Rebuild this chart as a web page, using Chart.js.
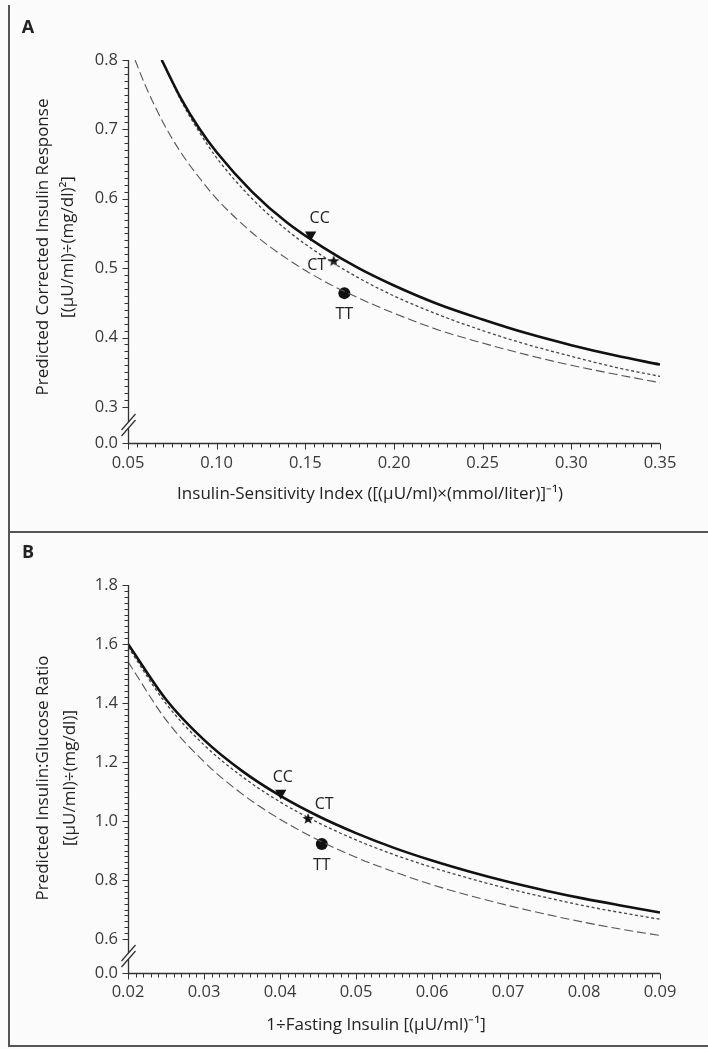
<!DOCTYPE html>
<html lang="en">
<head>
<meta charset="UTF-8">
<title>Predicted insulin response by genotype</title>
<script src="https://cdn.jsdelivr.net/npm/chart.js"></script>
<style>
    body {
        margin: 0;
        width: 708px;
        height: 1049px;
        position: relative;
        overflow: hidden;
        background: #fbfbfb;
        font-family: 'Open Sans', sans-serif;
    }
    .panel { position: absolute; left: 0; width: 708px; }
    #panelA { top: 0; height: 532px; }
    #panelB { top: 533px; height: 516px; }
    .rule { position: absolute; background: #555; }
</style>
</head>
<body>
<div class="rule" style="left:8px; top:5px; width:2px; height:1042px"></div>
<div class="rule" style="left:8px; top:531px; width:700px; height:2px"></div>
<div class="rule" style="left:8px; top:1045px; width:700px; height:2px"></div>
<div class="panel" id="panelA"><canvas id="chartA"></canvas></div>
<div class="panel" id="panelB"><canvas id="chartB"></canvas></div>
<script>
// ---- Panel A: insulin-sensitivity index vs corrected insulin response ----
const genotypes = ['CC', 'CT', 'TT'];

const xTicksA = [0.05, 0.10, 0.15, 0.20, 0.25, 0.30, 0.35];
const xTickLabelsA = ['0.05', '0.10', '0.15', '0.20', '0.25', '0.30', '0.35'];
const yTicksA = [0.3, 0.4, 0.5, 0.6, 0.7, 0.8];
const yTickLabelsA = ['0.0', '0.3', '0.4', '0.5', '0.6', '0.7', '0.8'];
const yBaseA = 0.248;   // where the broken axis shows 0.0

const xA_CC = [0.069, 0.08, 0.09, 0.10, 0.12, 0.14, 0.16, 0.18, 0.20, 0.225, 0.25, 0.275, 0.30, 0.325, 0.35];
const yA_CC = [0.800, 0.744, 0.702, 0.667, 0.610, 0.565, 0.530, 0.500, 0.475, 0.448, 0.426, 0.406, 0.389, 0.374, 0.361];
const xA_CT = [0.069, 0.08, 0.09, 0.10, 0.12, 0.14, 0.16, 0.18, 0.20, 0.225, 0.25, 0.275, 0.30, 0.325, 0.35];
const yA_CT = [0.800, 0.741, 0.697, 0.659, 0.600, 0.554, 0.517, 0.486, 0.460, 0.433, 0.410, 0.390, 0.373, 0.357, 0.344];
const xA_TT = [0.054, 0.06, 0.07, 0.08, 0.09, 0.10, 0.12, 0.14, 0.16, 0.18, 0.20, 0.225, 0.25, 0.275, 0.30, 0.325, 0.35];
const yA_TT = [0.800, 0.762, 0.709, 0.666, 0.631, 0.600, 0.551, 0.513, 0.482, 0.457, 0.435, 0.411, 0.392, 0.375, 0.360, 0.347, 0.335];

const markX_A = [0.153, 0.166, 0.172];
const markY_A = [0.548, 0.510, 0.464];

// ---- Panel B: 1/fasting insulin vs insulin:glucose ratio ----
const xTicksB = [0.02, 0.03, 0.04, 0.05, 0.06, 0.07, 0.08, 0.09];
const xTickLabelsB = ['0.02', '0.03', '0.04', '0.05', '0.06', '0.07', '0.08', '0.09'];
const yTicksB = [0.6, 0.8, 1.0, 1.2, 1.4, 1.6, 1.8];
const yTickLabelsB = ['0.0', '0.6', '0.8', '1.0', '1.2', '1.4', '1.6', '1.8'];
const yBaseB = 0.485;

const xB = [0.02, 0.025, 0.03, 0.035, 0.04, 0.045, 0.05, 0.055, 0.06, 0.065, 0.07, 0.075, 0.08, 0.085, 0.09];
const yB_CC = [1.600, 1.412, 1.275, 1.170, 1.086, 1.017, 0.959, 0.909, 0.866, 0.828, 0.794, 0.764, 0.737, 0.713, 0.690];
const yB_CT = [1.590, 1.398, 1.258, 1.151, 1.065, 0.995, 0.936, 0.886, 0.843, 0.805, 0.771, 0.741, 0.713, 0.689, 0.667];
const yB_TT = [1.540, 1.343, 1.201, 1.092, 1.006, 0.936, 0.877, 0.828, 0.784, 0.747, 0.714, 0.684, 0.657, 0.633, 0.612];

const markX_B = [0.0401, 0.0437, 0.0455];
const markY_B = [1.095, 1.007, 0.922];

Chart.defaults.font.family = '"Open Sans", sans-serif';
Chart.defaults.font.size = 16.5;
Chart.defaults.color = '#3a3a3a';

const pts = (xs, ys) => xs.map((x, i) => ({ x: x, y: ys[i] }));

// small filled five-point star for the CT marker
function makeStar(r) {
    const c = document.createElement('canvas');
    c.width = c.height = 2 * r + 2;
    const g = c.getContext('2d');
    g.beginPath();
    for (let i = 0; i < 10; i++) {
        const a = -Math.PI / 2 + i * Math.PI / 5;
        const rr = i % 2 ? r * 0.42 : r;
        g.lineTo(r + 1 + rr * Math.cos(a), r + 1 + rr * Math.sin(a));
    }
    g.closePath();
    g.fillStyle = '#111';
    g.fill();
    return c;
}
const star = makeStar(6);

// axis lines, minor ticks, the axis break, titles and genotype labels
const decor = {
    id: 'decor',
    afterDraw(chart, args, o) {
        const ctx = chart.ctx;
        const xs = chart.scales.x, ys = chart.scales.y;
        const ax = Math.round(xs.getPixelForValue(xs.min)) + 0.5;
        const ay = Math.round(ys.getPixelForValue(ys.min)) + 0.5;
        const top = ys.getPixelForValue(ys.max);
        const right = xs.getPixelForValue(xs.max);
        const brk = ys.getPixelForValue((o.breakAt + ys.min) / 2);

        ctx.save();
        ctx.strokeStyle = '#333';
        ctx.lineWidth = 1.3;
        ctx.beginPath();
        ctx.moveTo(ax, top);
        ctx.lineTo(ax, brk - 3);
        ctx.moveTo(ax, brk + 3);
        ctx.lineTo(ax, ay);
        ctx.lineTo(right, ay);
        ctx.stroke();

        ctx.beginPath();
        [-3, 3].forEach(d => {
            ctx.moveTo(ax - 7, brk + 8 + d);
            ctx.lineTo(ax + 7, brk - 8 + d);
        });
        ctx.stroke();

        ctx.lineWidth = 1;
        ctx.beginPath();
        const nx = Math.round((xs.max - xs.min) / o.xMinor);
        for (let i = 0; i <= nx; i++) {
            const x = Math.round(xs.getPixelForValue(xs.min + i * o.xMinor)) + 0.5;
            const len = i % 10 === 0 ? 6 : 4;
            ctx.moveTo(x, ay);
            ctx.lineTo(x, ay + len);
        }
        const ny = Math.round((ys.max - o.breakAt) / o.yMinor);
        for (let i = 0; i <= ny; i++) {
            const y = Math.round(ys.getPixelForValue(o.breakAt + i * o.yMinor)) + 0.5;
            const len = i % 10 === 0 ? 6 : 4;
            ctx.moveTo(ax, y);
            ctx.lineTo(ax - len, y);
        }
        ctx.moveTo(ax, ay);
        ctx.lineTo(ax - 6, ay);
        ctx.stroke();

        ctx.fillStyle = '#222';
        ctx.textAlign = 'center';
        ctx.textBaseline = 'middle';
        ctx.font = '17px "Open Sans"';
        ctx.fillText(o.xTitle, o.xTitlePos[0], o.xTitlePos[1]);
        o.yTitle.forEach((t, i) => {
            ctx.save();
            ctx.translate(o.yTitleX[i], o.yTitleY);
            ctx.rotate(-Math.PI / 2);
            ctx.fillText(t, 0, 0);
            ctx.restore();
        });

        ctx.font = 'bold 18px "Open Sans"';
        ctx.fillText(o.panel, 28, o.panelY);

        ctx.font = '16px "Open Sans"';
        const meta = chart.getDatasetMeta(3);
        genotypes.forEach((g, i) => {
            const p = meta.data[i];
            ctx.fillText(g, p.x + o.labelOffsets[i][0], p.y + o.labelOffsets[i][1]);
        });
        ctx.restore();
    }
};

function makeChart(id, d) {
    return new Chart(document.getElementById(id), {
        type: 'scatter',
        data: {
            datasets: [
                { label: 'CC', data: d.cc, showLine: true, borderColor: '#111', borderWidth: 2.6,
                  pointRadius: 0, cubicInterpolationMode: 'monotone' },
                { label: 'CT', data: d.ct, showLine: true, borderColor: '#444', borderWidth: 1.3,
                  borderDash: [3, 2.5], pointRadius: 0, cubicInterpolationMode: 'monotone' },
                { label: 'TT', data: d.tt, showLine: true, borderColor: '#555', borderWidth: 1.1,
                  borderDash: [9, 4], pointRadius: 0, cubicInterpolationMode: 'monotone' },
                { label: 'genotype', data: d.marks, showLine: false,
                  pointStyle: ['triangle', star, 'circle'], rotation: [180, 0, 0],
                  pointRadius: [6.5, 6, 6], backgroundColor: '#111', borderColor: '#111', borderWidth: 0 }
            ]
        },
        options: {
            responsive: true,
            maintainAspectRatio: false,
            animation: false,
            layout: { padding: { top: d.padTop, right: 48, left: 0, bottom: 0 } },
            plugins: {
                legend: { display: false },
                tooltip: { enabled: false },
                decor: d.decor
            },
            scales: {
                x: {
                    type: 'linear', min: d.xTicks[0], max: d.xTicks[d.xTicks.length - 1],
                    afterBuildTicks: s => { s.ticks = d.xTicks.map(v => ({ value: v })); },
                    afterFit: s => { s.height = d.xHeight; },
                    ticks: { autoSkip: false, maxRotation: 0, padding: d.xPad,
                             callback: (v, i) => d.xLabels[i] },
                    grid: { display: false, drawTicks: false },
                    border: { display: false }
                },
                y: {
                    type: 'linear', min: d.yBase, max: d.yTicks[d.yTicks.length - 1],
                    afterBuildTicks: s => { s.ticks = [d.yBase].concat(d.yTicks).map(v => ({ value: v })); },
                    afterFit: s => { s.width = 128; },
                    ticks: { autoSkip: false, padding: 10, callback: (v, i) => d.yLabels[i] },
                    grid: { display: false, drawTicks: false },
                    border: { display: false }
                }
            }
        },
        plugins: [decor]
    });
}

makeChart('chartA', {
    cc: pts(xA_CC, yA_CC), ct: pts(xA_CT, yA_CT), tt: pts(xA_TT, yA_TT),
    marks: pts(markX_A, markY_A),
    xTicks: xTicksA, xLabels: xTickLabelsA, yTicks: yTicksA, yLabels: yTickLabelsA, yBase: yBaseA,
    padTop: 60, xHeight: 89, xPad: 10,
    decor: {
        xMinor: 0.005, yMinor: 0.01, breakAt: 0.3,
        xTitle: 'Insulin-Sensitivity Index ([(\u03bcU/ml)\u00d7(mmol/liter)]\u207b\u00b9)',
        xTitlePos: [370, 494],
        yTitle: ['Predicted Corrected Insulin Response', '[(\u03bcU/ml)\u00f7(mg/dl)\u00b2]'],
        yTitleX: [43, 68], yTitleY: 247,
        panel: 'A', panelY: 28,
        labelOffsets: [[9, -16], [-17, 4], [0, 21]]
    }
});

makeChart('chartB', {
    cc: pts(xB, yB_CC), ct: pts(xB, yB_CT), tt: pts(xB, yB_TT),
    marks: pts(markX_B, markY_B),
    xTicks: xTicksB, xLabels: xTickLabelsB, yTicks: yTicksB, yLabels: yTickLabelsB, yBase: yBaseB,
    padTop: 52, xHeight: 76, xPad: 9,
    decor: {
        xMinor: 0.001, yMinor: 0.02, breakAt: 0.6,
        xTitle: '1\u00f7Fasting Insulin [(\u03bcU/ml)\u207b\u00b9]',
        xTitlePos: [376, 492],
        yTitle: ['Predicted Insulin:Glucose Ratio', '[(\u03bcU/ml)\u00f7(mg/dl)]'],
        yTitleX: [43, 70], yTitleY: 245,
        panel: 'B', panelY: 20,
        labelOffsets: [[2, -16], [16, -15], [0, 21]]
    }
});
</script>
</body>
</html>
